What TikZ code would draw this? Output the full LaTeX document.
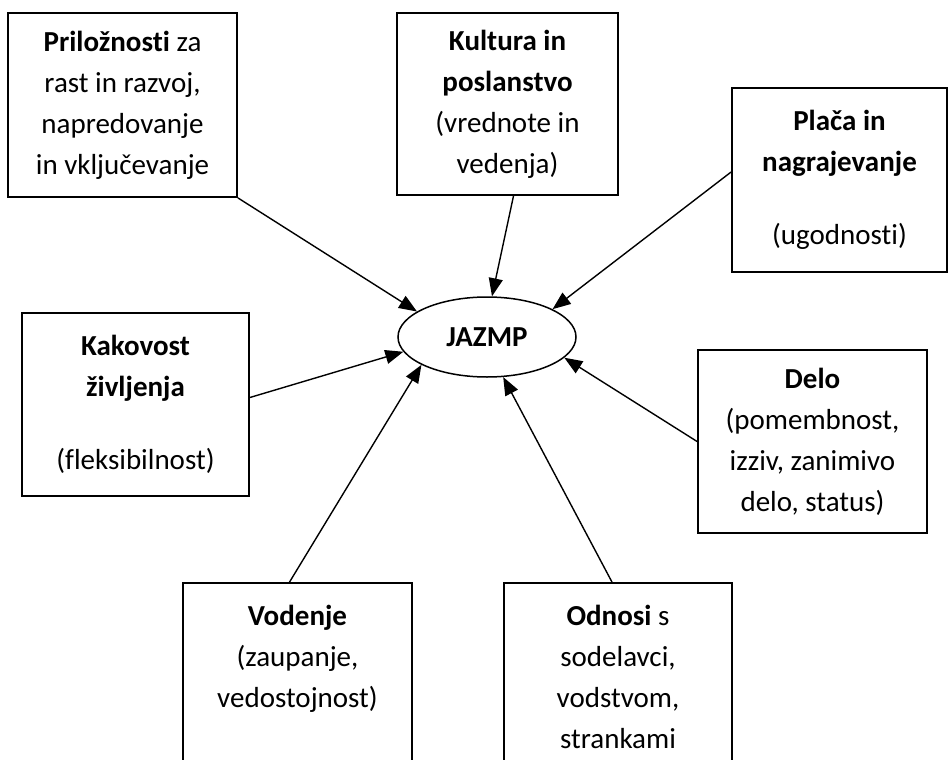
\documentclass[tikz,border=0pt]{standalone}
\usepackage{fontspec}
\setmainfont[Ligatures={NoCommon,NoContextual}]{Carlito}
\usepackage{tikz}
\usetikzlibrary{arrows.meta,%
                shapes.geometric}

\begin{document}
\begin{tikzpicture}[x=1pt,y=-1pt]
  \tikzstyle{BoxStyle}=[draw,line width=1.8pt,align=center,inner sep=0pt,
                        font=\fontsize{29}{41}\selectfont]
  \tikzstyle{EdgeStyle}=[line width=1.4pt,-{Triangle[length=18pt,width=14pt]}]
  \useasboundingbox (0,0) rectangle (948,760);
  \node[BoxStyle,minimum width=229pt,minimum height=184pt] (prilo) at (122.5,105)
    {\textbf{Priložnosti} za\\rast in razvoj,\\napredovanje\\in vključevanje};
  \node[BoxStyle,minimum width=221pt,minimum height=182pt] (kult) at (507.5,104)
    {\textbf{Kultura in}\\\textbf{poslanstvo}\\(vrednote in\\vedenja)};
  \node[BoxStyle,minimum width=215pt,minimum height=184pt] (placa) at (839.5,180)
    {\textbf{Plača in}\\\textbf{nagrajevanje}\\[32pt](ugodnosti)};
  \node[BoxStyle,minimum width=227pt,minimum height=183pt] (kakov) at (135.5,404.5)
    {\textbf{Kakovost}\\\textbf{življenja}\\[32pt](fleksibilnost)};
  \node[BoxStyle,minimum width=229pt,minimum height=183pt] (delo) at (812.5,441.5)
    {\textbf{Delo}\\(pomembnost,\\izziv, zanimivo\\delo, status)};
  \node[BoxStyle,minimum width=229pt,minimum height=187pt] (vod) at (297.5,676.5)
    {\textbf{Vodenje}\\(zaupanje,\\vedostojnost)\\\mbox{}};
  \node[BoxStyle,minimum width=228pt,minimum height=187pt] (odn) at (618,676.5)
    {\textbf{Odnosi} s\\sodelavci,\\vodstvom,\\strankami};
  \node[draw,ellipse,line width=1.5pt,minimum width=178pt,minimum height=80pt,
        font=\fontsize{29}{34}\selectfont] (jazmp) at (487,337) {\textbf{JAZMP}};
  \draw[EdgeStyle] (prilo.south east) -- (jazmp.160);
  \draw[EdgeStyle] ([xshift=6pt]kult.south) -- (jazmp.83);
  \draw[EdgeStyle] ([yshift=8pt]placa.west) -- (jazmp.23);
  \draw[EdgeStyle] ([yshift=7pt]kakov.east) -- (jazmp.190);
  \draw[EdgeStyle] (delo.west) -- (jazmp.-15);
  \draw[EdgeStyle] ([xshift=-8pt]vod.north) -- (jazmp.203);
  \draw[EdgeStyle] ([xshift=-6pt]odn.north) -- (jazmp.292);
\end{tikzpicture}
\end{document}
